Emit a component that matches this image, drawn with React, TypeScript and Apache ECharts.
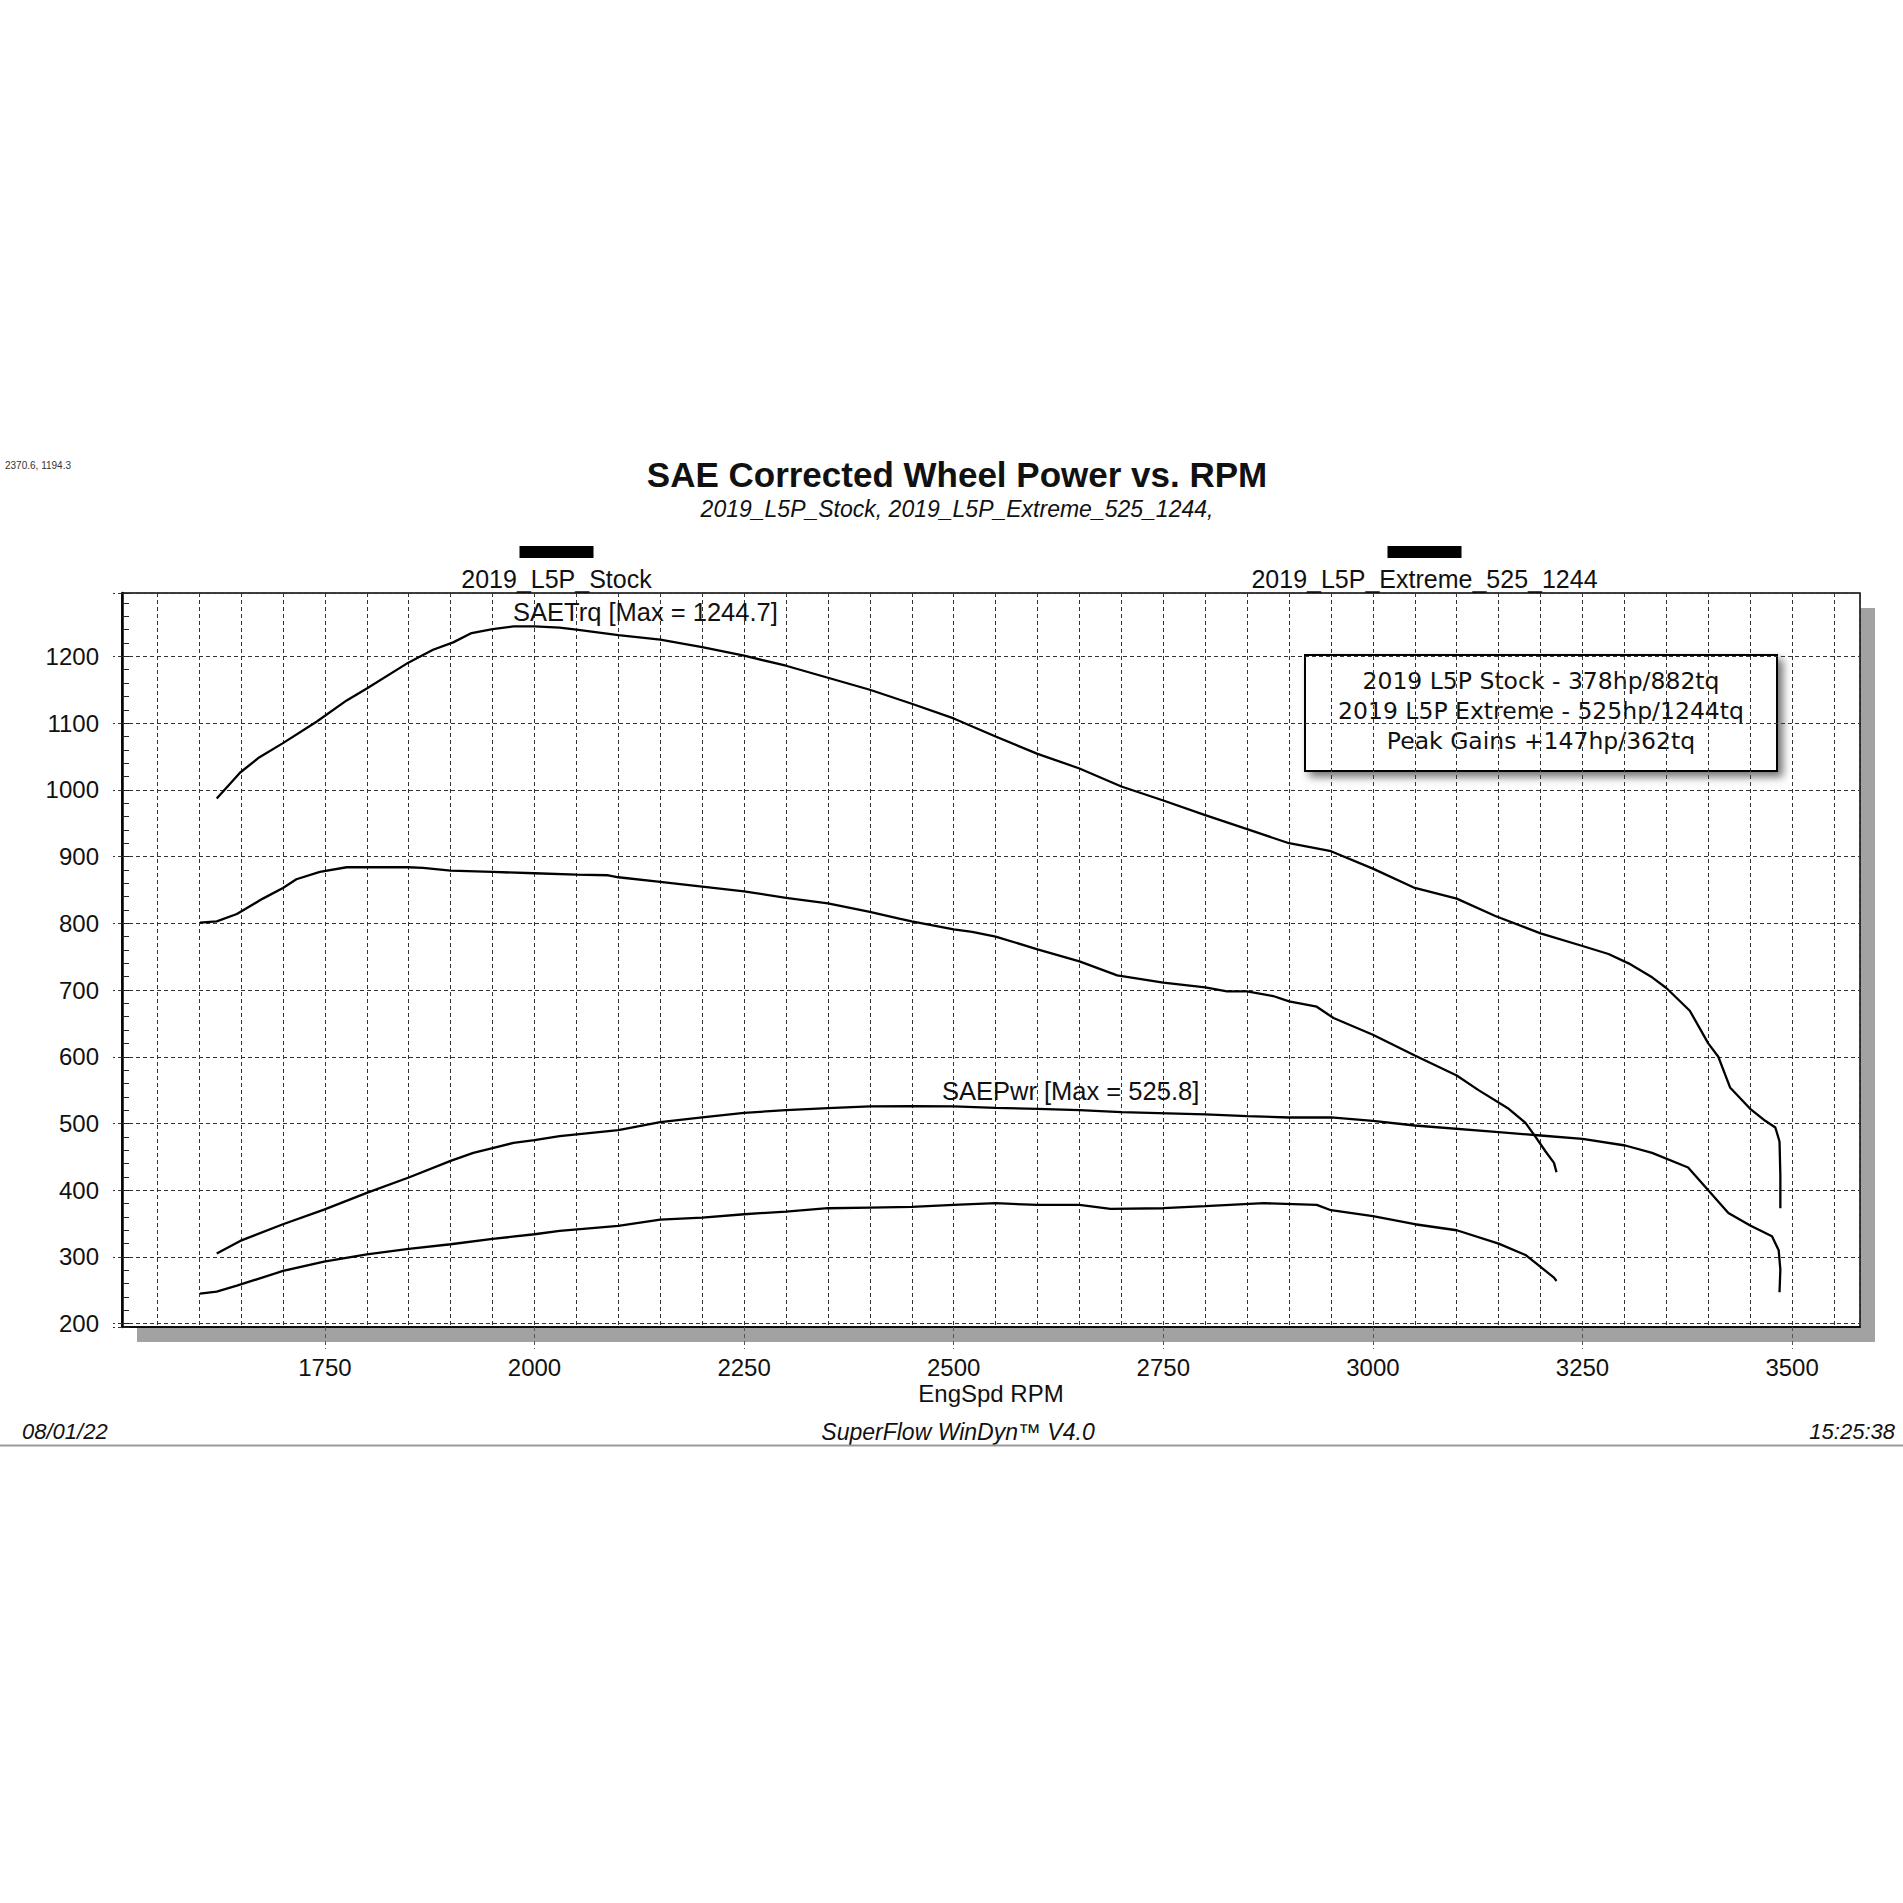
import React, { useEffect, useRef } from "react";
import * as echarts from "echarts";

const rpmLabels = [1750, 2000, 2250, 2500, 2750, 3000, 3250, 3500];

const extremeTorque = [
  [1621, 987], [1649, 1026], [1672, 1049], [1700, 1070], [1740, 1102], [1776, 1134], [1800, 1152],
  [1850, 1191], [1879, 1210], [1903, 1221], [1925, 1235], [1950, 1241], [1975, 1245], [2000, 1245],
  [2030, 1243], [2050, 1240], [2100, 1232], [2150, 1225], [2200, 1214], [2250, 1201], [2300, 1186],
  [2350, 1168], [2400, 1150], [2450, 1129], [2500, 1107], [2550, 1080], [2600, 1054], [2650, 1032],
  [2700, 1005], [2750, 984], [2800, 962], [2850, 941], [2900, 920], [2950, 908], [3000, 882],
  [3050, 853], [3100, 837], [3146, 811], [3200, 785], [3250, 766], [3281, 754], [3305, 740],
  [3333, 719], [3350, 703], [3378, 669], [3400, 620], [3412, 600], [3426, 554], [3450, 522],
  [3468, 504], [3480, 494], [3485, 473], [3486, 423], [3486, 373],
];

const stockTorque = [
  [1601, 801], [1621, 803], [1645, 814], [1676, 837], [1700, 853], [1716, 866], [1744, 877],
  [1776, 884], [1800, 884], [1850, 884], [1867, 883], [1900, 879], [1950, 877], [2000, 875],
  [2050, 873], [2088, 872], [2100, 869], [2150, 862], [2200, 855], [2250, 848], [2300, 838],
  [2350, 830], [2400, 817], [2435, 807], [2450, 803], [2500, 791], [2522, 787], [2550, 780],
  [2600, 761], [2650, 743], [2695, 722], [2750, 711], [2800, 704], [2826, 698], [2850, 698],
  [2881, 691], [2900, 683], [2933, 675], [2953, 658], [3000, 633], [3050, 602], [3100, 572],
  [3126, 550], [3162, 522], [3182, 501], [3194, 480], [3206, 458], [3216, 441], [3219, 427],
];

const extremePower = [
  [1621, 305], [1649, 324], [1700, 349], [1749, 371], [1800, 396], [1850, 419], [1900, 444],
  [1927, 456], [1950, 463], [1975, 471], [2000, 475], [2030, 481], [2100, 490], [2150, 502],
  [2200, 509], [2250, 516], [2300, 520], [2350, 523], [2400, 525.6], [2450, 525.8], [2500, 525.6],
  [2550, 523.5], [2600, 522], [2650, 520], [2700, 517], [2800, 513.5], [2850, 511], [2900, 509],
  [2950, 509], [3000, 504], [3050, 497], [3150, 487], [3200, 482], [3250, 477], [3301, 467],
  [3333, 456], [3376, 434], [3400, 400], [3424, 366], [3450, 347], [3476, 331], [3484, 310],
  [3486, 281], [3485, 247],
];

const stockPower = [
  [1601, 245], [1621, 248], [1645, 257], [1700, 279], [1749, 293], [1800, 304], [1850, 312],
  [1900, 319], [1950, 327], [2000, 334], [2030, 339], [2100, 346.5], [2150, 356], [2200, 359],
  [2250, 364], [2300, 368], [2350, 373], [2400, 374], [2450, 375], [2500, 378], [2550, 380.5],
  [2600, 378], [2650, 378], [2687, 372], [2750, 373], [2800, 376], [2870, 380.5], [2933, 378],
  [2950, 370], [3000, 361], [3050, 349], [3100, 340], [3150, 320], [3182, 303], [3200, 285],
  [3216, 269], [3219, 264],
];

const runNames = ["2019_L5P_Stock", "2019_L5P_Extreme_525_1244"];
const boxLines = [
  "2019 L5P Stock - 378hp/882tq",
  "2019 L5P Extreme - 525hp/1244tq",
  "Peak Gains +147hp/362tq",
];

const FONT = '"Liberation Sans", Arial, sans-serif';

export default function App() {
  const ref = useRef<HTMLDivElement>(null);

  useEffect(() => {
    const chart = echarts.init(ref.current as HTMLDivElement, null, { renderer: "svg" });

    const gridLeft = 122;
    const gridTop = 593;
    const gridW = 1738;
    const gridH = 734;

    const dashed = { color: "#333", width: 1, type: [4, 3] as any };
    const plain = (v: number) => String(v);

    const lineSeries = (name: string, data: number[][]) => ({
      name,
      type: "line",
      data,
      xAxisIndex: 0,
      yAxisIndex: 0,
      symbol: "none",
      smooth: false,
      lineStyle: { color: "#000", width: 2.3 },
      z: 5,
    });

    const option: any = {
      animation: false,
      backgroundColor: "#fff",
      title: {
        text: "SAE Corrected Wheel Power vs. RPM",
        subtext: runNames.join(", ") + ",",
        left: 957,
        top: 457,
        textAlign: "center",
        padding: 0,
        itemGap: 5,
        textStyle: { fontFamily: FONT, fontSize: 35, fontWeight: "bold", color: "#111" },
        subtextStyle: { fontFamily: FONT, fontSize: 23, fontStyle: "italic", color: "#111" },
      },
      grid: {
        left: gridLeft,
        top: gridTop,
        width: gridW,
        height: gridH,
        show: true,
        backgroundColor: "#fff",
        borderColor: "#000",
        borderWidth: 1.5,
        containLabel: false,
      },
      xAxis: [
        {
          type: "value",
          min: 1508,
          max: 3581,
          splitNumber: 41,
          minInterval: 50,
          maxInterval: 50,
          axisLine: { show: true, lineStyle: { color: "#000", width: 1.5 } },
          axisTick: { show: false },
          axisLabel: { show: false },
          splitLine: { show: true, lineStyle: dashed },
        },
        {
          type: "value",
          min: 1508,
          max: 3581,
          position: "bottom",
          axisLine: { show: false },
          axisTick: {
            show: true,
            customValues: rpmLabels,
            length: 22,
            lineStyle: { color: "#555", width: 1, type: [4, 3] },
          },
          axisLabel: {
            show: true,
            customValues: rpmLabels,
            formatter: plain,
            margin: 28,
            fontFamily: FONT,
            fontSize: 24,
            color: "#111",
          },
          splitLine: { show: false },
          name: "EngSpd RPM",
          nameLocation: "middle",
          nameGap: 54,
          nameTextStyle: { fontFamily: FONT, fontSize: 24, color: "#111" },
        },
      ],
      yAxis: [
        {
          type: "value",
          min: 195,
          max: 1295,
          splitNumber: 11,
          minInterval: 100,
          maxInterval: 100,
          axisLine: { show: true, lineStyle: { color: "#000", width: 2.5 } },
          axisTick: { show: true, inside: true, length: 7, lineStyle: { color: "#222", width: 1 } },
          minorTick: { show: true, splitNumber: 5, length: 7, lineStyle: { color: "#222", width: 1 } },
          axisLabel: {
            show: true,
            margin: 23,
            showMinLabel: false,
            showMaxLabel: false,
            formatter: plain,
            fontFamily: FONT,
            fontSize: 24,
            color: "#111",
          },
          splitLine: { show: true, lineStyle: dashed },
        },
        {
          type: "value",
          min: 195,
          max: 1295,
          splitNumber: 11,
          minInterval: 100,
          maxInterval: 100,
          position: "left",
          axisLine: { show: false },
          axisTick: { show: true, inside: false, length: 9, lineStyle: { color: "#333", width: 1, type: [4, 3] } },
          axisLabel: { show: false },
          splitLine: { show: false },
        },
      ],
      series: [
        lineSeries("SAETrq " + runNames[1], extremeTorque),
        lineSeries("SAETrq " + runNames[0], stockTorque),
        lineSeries("SAEPwr " + runNames[1], extremePower),
        lineSeries("SAEPwr " + runNames[0], stockPower),
      ],
      graphic: [
        {
          type: "rect",
          z: -1,
          shape: { x: gridLeft + 15, y: gridTop + 15, width: gridW, height: gridH },
          style: { fill: "#a2a2a2" },
        },
        {
          type: "text",
          x: 5,
          y: 465,
          style: { text: "2370.6, 1194.3", fontFamily: FONT, fontSize: 10, fill: "#333", textAlign: "left", textVerticalAlign: "middle" },
        },
        {
          type: "rect",
          shape: { x: 519.5, y: 546, width: 74, height: 12 },
          style: { fill: "#000" },
        },
        {
          type: "rect",
          shape: { x: 1387.5, y: 546, width: 74, height: 12 },
          style: { fill: "#000" },
        },
        {
          type: "text",
          x: 556.5,
          y: 579,
          style: { text: runNames[0], fontFamily: FONT, fontSize: 25, fill: "#111", textAlign: "center", textVerticalAlign: "middle" },
        },
        {
          type: "text",
          x: 1424.5,
          y: 579,
          style: { text: runNames[1], fontFamily: FONT, fontSize: 25, fill: "#111", textAlign: "center", textVerticalAlign: "middle" },
        },
        {
          type: "text",
          x: 513,
          y: 612,
          z: 10,
          style: { text: "SAETrq [Max = 1244.7]", fontFamily: FONT, fontSize: 25.5, fill: "#111", textAlign: "left", textVerticalAlign: "middle" },
        },
        {
          type: "text",
          x: 942,
          y: 1091,
          z: 10,
          style: { text: "SAEPwr [Max = 525.8]", fontFamily: FONT, fontSize: 25.5, fill: "#111", textAlign: "left", textVerticalAlign: "middle" },
        },
        {
          type: "group",
          x: 1305,
          y: 655,
          z: 10,
          children: [
            {
              type: "rect",
              shape: { x: 0, y: 0, width: 472, height: 116 },
              style: {
                fill: "#fff",
                stroke: "#000",
                lineWidth: 2,
                shadowBlur: 8,
                shadowOffsetX: 5,
                shadowOffsetY: 5,
                shadowColor: "rgba(0,0,0,0.55)",
              },
            },
            ...boxLines.map((t, i) => ({
              type: "text",
              x: 236,
              y: 26 + i * 30,
              style: {
                text: t,
                fontFamily: '"DejaVu Sans", sans-serif',
                fontSize: 23.5,
                fill: "#111",
                textAlign: "center",
                textVerticalAlign: "middle",
              },
            })),
          ],
        },
        {
          type: "text",
          x: 22,
          y: 1431.5,
          style: { text: "08/01/22", fontFamily: FONT, fontSize: 22, fontStyle: "italic", fill: "#111", textAlign: "left", textVerticalAlign: "middle" },
        },
        {
          type: "text",
          x: 958,
          y: 1431.5,
          style: { text: "SuperFlow WinDyn\u2122 V4.0", fontFamily: FONT, fontSize: 23, fontStyle: "italic", fill: "#111", textAlign: "center", textVerticalAlign: "middle" },
        },
        {
          type: "text",
          x: 1895,
          y: 1431.5,
          style: { text: "15:25:38", fontFamily: FONT, fontSize: 22, fontStyle: "italic", fill: "#111", textAlign: "right", textVerticalAlign: "middle" },
        },
        {
          type: "line",
          shape: { x1: 0, y1: 1445.5, x2: 1903, y2: 1445.5 },
          style: { stroke: "#999", lineWidth: 2 },
        },
      ],
    };

    chart.setOption(option);
    return () => chart.dispose();
  }, []);

  return (
    <div
      ref={ref}
      style={{ position: "absolute", left: 0, top: 0, width: 1903, height: 1903, background: "#fff" }}
    />
  );
}
